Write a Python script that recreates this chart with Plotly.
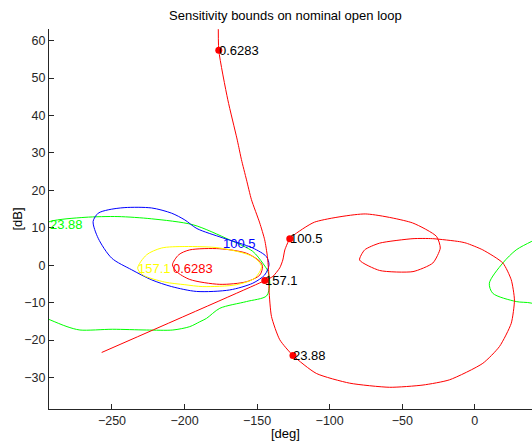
import numpy as np
import plotly.graph_objects as go

# ---------------- data ----------------
# nominal open loop (Nichols: phase [deg], magnitude [dB]), ordered by frequency
ol_deg = [-176.7, -176.4, -170.2, -164.0, -162.6, -160.8, -157.3, -153.9, -148.2, -144.8,
          -142.9, -142.0, -141.8, -140.1, -134.4, -125.3, -109.2, -86.2, -58.7, -35.7,
          -17.4, 5.5, 17.0, 25.1, 27.3, 25.1, 19.3, 5.5, -5.9, -10.5, -29.1, -42.6,
          -65.6, -75.9, -79.4, -65.6, -42.6, -28.9, -23.8, -26.4, -42.9, -75.5, -110.5,
          -125.3, -127.5, -130.9, -132.3, -134.4, -139.2, -144.7, -257.1]
ol_db = [66.0, 57.4, 44.2, 34.0, 31.5, 28.2, 22.8, 17.5, 11.3, 6.8,
         2.3, -2.1, -6.6, -13.7, -19.9, -24.1, -28.9, -31.5, -32.6, -32.0,
         -30.6, -26.2, -21.7, -15.5, -9.3, -3.9, 0.6, 4.1, 5.9, 6.3, 7.1, 7.1,
         5.9, 4.1, 1.4, -1.4, -1.7, 0.6, 4.6, 7.7, 11.3, 13.7, 11.5,
         7.9, 7.1, 4.1, 1.4, -0.7, -3.0, -4.1, -23.3]

# marked frequencies on the open loop
mark_w = ["0.6283", "100.5", "157.1", "23.88"]
mark_deg = [-176.4, -127.5, -144.7, -125.3]
mark_db = [57.4, 7.1, -4.1, -24.1]

# sensitivity bounds (closed contours)
b1_deg = [-208.3, -204.0, -196.4, -175.7, -157.3, -148.1, -146.3, -148.1, -157.3, -175.7,
          -196.4, -205.5, -208.3]
b1_db = [0.1, 2.8, 4.1, 4.4, 3.2, 1.0, -0.3, -2.6, -4.4, -5.1, -3.8, -1.7, 0.1]

b2_deg = [-350.0, -340.7, -331.5, -321.2, -305.0, -292.6, -268.6, -245.9, -222.7, -194.1,
          -169.1, -153.0, -146.2, -142.5, -141.3, -143.5, -157.3, -175.7, -184.9, -189.5,
          -196.4, -208.1, -226.2, -249.6, -272.1, -281.0, -292.6, -307.0, -321.2, -331.5,
          -347.6, -350.0]
b2_db = [-4.8, 0.6, 4.1, 6.3, 9.3, 11.7, 12.8, 13.0, 12.4, 10.8,
         6.8, 3.7, 0.6, -1.7, -5.0, -8.2, -9.7, -11.5, -14.2, -15.1,
         -16.4, -17.3, -17.3, -17.1, -17.3, -16.4, -14.6, -12.2, -10.1, -9.7,
         -7.5, -4.8]

b3_deg = [-263.0, -259.5, -252.6, -241.1, -222.7, -208.9, -199.8, -191.5, -173.6, -153.0,
          -143.6, -141.8, -144.8, -153.0, -168.9, -191.7, -208.9, -222.7, -236.5, -250.2,
          -259.5, -263.0]
b3_db = [11.7, 13.9, 14.8, 15.4, 15.3, 13.9, 12.1, 9.8, 7.3, 4.6,
         2.3, 0.1, -2.6, -4.8, -6.6, -7.0, -5.7, -3.9, -1.2, 1.9,
         7.2, 11.7]

b4_deg = [-232.3, -226.1, -215.8, -199.8, -175.7, -153.0, -147.0, -151.5, -164.2, -187.4,
          -199.8, -213.6, -228.7, -232.3]
b4_db = [-0.8, 2.8, 4.6, 5.0, 4.6, 2.3, -0.3, -3.4, -5.2, -5.7, -5.2, -4.5, -2.6, -0.8]

bound_w = ["0.6283", "23.88", "100.5", "157.1"]
bound_colors = ["#ff0000", "#00ff00", "#0000ff", "#ffff00"]
bound_lab_deg = [-208.1, -292.6, -173.6, -232.1]
bound_lab_db = [-0.8, 11.0, 5.9, -0.8]

x_ticks = [-250, -200, -150, -100, -50, 0]
y_ticks = [-30, -20, -10, 0, 10, 20, 30, 40, 50, 60]

# ---------------- figure ----------------
W, H = 532, 444
ML, MR, MT, MB = 49, 0, 29, 35
FONT = "Liberation Sans, Arial, Helvetica, sans-serif"

fig = go.Figure()

bounds = [(b1_deg, b1_db), (b2_deg, b2_db), (b3_deg, b3_db), (b4_deg, b4_db)]
for (bd, bm), col in zip(bounds, bound_colors):
    for shift in (0.0, 360.0):
        fig.add_trace(go.Scatter(x=np.array(bd) + shift, y=bm, mode="lines",
                                 line=dict(color=col, width=1, shape="spline", smoothing=0.8),
                                 hoverinfo="skip", showlegend=False))

fig.add_trace(go.Scatter(x=ol_deg, y=ol_db, mode="lines",
                         line=dict(color="#ff0000", width=1, shape="spline", smoothing=0.6),
                         showlegend=False))
fig.add_trace(go.Scatter(x=mark_deg, y=mark_db, mode="markers",
                         marker=dict(color="#ff0000", size=7), showlegend=False))

for w, d, m in zip(mark_w, mark_deg, mark_db):
    fig.add_annotation(x=d, y=m, text=w, showarrow=False, xanchor="left", yanchor="middle",
                       xshift=-2, font=dict(family=FONT, size=13, color="#000000"))
for w, c, d, m in zip(bound_w, bound_colors, bound_lab_deg, bound_lab_db):
    fig.add_annotation(x=d, y=m, text=w, showarrow=False, xanchor="left", yanchor="middle",
                       xshift=-2, font=dict(family=FONT, size=13, color=c))

pw = W - ML - MR
ph = H - MT - MB
cx = (285.5 - ML) / pw
fig.add_annotation(xref="paper", yref="paper", x=cx, y=1 + (MT - 15) / ph,
                   text="Sensitivity bounds on nominal open loop", showarrow=False,
                   xanchor="center", yanchor="middle", font=dict(family=FONT, size=13, color="#000"))
fig.add_annotation(xref="paper", yref="paper", x=cx, y=-(433 - (H - MB)) / ph,
                   text="[deg]", showarrow=False, xanchor="center", yanchor="middle",
                   font=dict(family=FONT, size=13, color="#000"))
fig.add_annotation(xref="paper", yref="paper", x=(16.5 - ML) / pw, y=0.5,
                   text="[dB]", showarrow=False, textangle=-90, xanchor="center", yanchor="middle",
                   font=dict(family=FONT, size=13, color="#000"))

axis_common = dict(showline=True, linecolor="#262626", linewidth=1, ticks="inside", ticklen=5,
                   tickcolor="#262626", showgrid=False, zeroline=False, mirror=False,
                   automargin=False,
                   tickfont=dict(family=FONT, size=12.5, color="#262626"))
fig.update_xaxes(range=[-293.4, 39.4], tickvals=x_ticks, **axis_common)
fig.update_yaxes(range=[-38.4, 63.1], tickvals=y_ticks, **axis_common)

fig.update_layout(width=W, height=H, margin=dict(l=ML, r=MR, t=MT, b=MB, autoexpand=False),
                  paper_bgcolor="white", plot_bgcolor="white", showlegend=False)

fig.write_html("out.html", config={"displayModeBar": False},
               post_script="document.body.style.margin='0';document.body.style.padding='0';")
